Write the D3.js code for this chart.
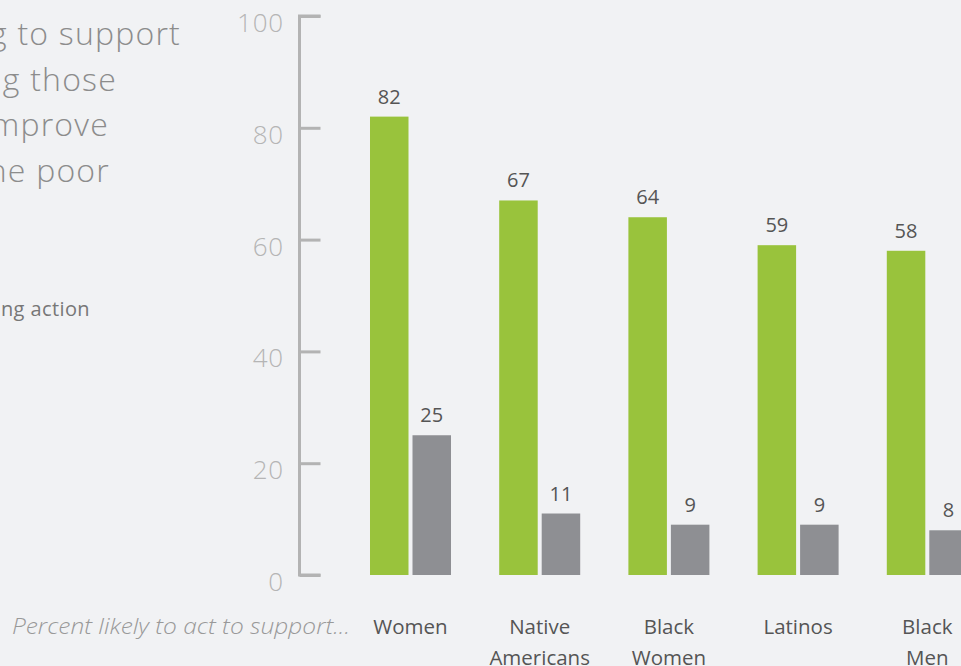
<!DOCTYPE html>
<html><head><meta charset="utf-8">
<script src="https://cdn.jsdelivr.net/npm/d3@7"></script>
<style>
html,body{margin:0;padding:0;background:#f1f2f4;overflow:hidden;}
svg{display:block;font-family:"Open Sans",sans-serif;}
</style></head>
<body>
<svg id="chart" width="961" height="666"></svg>
<script>
const categories = [["Women"],["Native","Americans"],["Black","Women"],["Latinos"],["Black","Men"]];
const categoryKeys = ["Women","Native Americans","Black Women","Latinos","Black Men"];
const supportValues = [82,67,64,59,58];
const actionValues = [25,11,9,9,8];
const seriesKeys = ["support","action"];
const yTicks = [0,20,40,60,80,100];
const titleLines = ["Percent willing to support","groups including those","working to improve","conditions for the poor"];
const legendText = "Percent taking action";
const axisNote = "Percent likely to act to support...";

const svg = d3.select("#chart");
const colors = {support:"#99c33c", action:"#8e8f93"};

const y = d3.scaleLinear().domain([0,100]).range([575,16]);
const x0 = d3.scaleBand().domain(categoryKeys).range([345.9,991.9]).paddingInner(0.373).paddingOuter(0.1865);
const x1 = d3.scaleBand().domain(seriesKeys).range([0,x0.bandwidth()]).paddingInner(0.094);

// title text (cut off at left in the reference)
const titleEnds = [181,117,109,110];
svg.append("g").selectAll("text").data(titleLines).join("text")
  .attr("x",(d,i)=>titleEnds[i])
  .attr("y",(d,i)=>45+i*45.5)
  .attr("text-anchor","end")
  .attr("font-size",32)
  .attr("letter-spacing",1.2)
  .attr("font-weight",300)
  .attr("fill","#8c8c8c")
  .text(d=>d);

svg.append("text").attr("x",90).attr("y",316).attr("text-anchor","end")
  .attr("font-size",20).attr("letter-spacing",0.4).attr("fill","#777").text(legendText);

// y axis
const axisG = svg.append("g").attr("transform","translate(299.5,0)");
const axis = d3.axisRight(y).tickValues(yTicks).tickSize(21).tickFormat("");
axisG.call(axis);
axisG.select(".domain").attr("d",`M21,${y(100)}H0V${y(0)}H21`).attr("stroke","#b3b3b3").attr("stroke-width",3).attr("fill","none");
axisG.selectAll(".tick line").attr("stroke","#b3b3b3").attr("stroke-width",3);
svg.append("g").selectAll("text").data(yTicks).join("text")
  .attr("x",284).attr("y",d=>y(d)+16)
  .attr("text-anchor","end").attr("font-size",26).attr("letter-spacing",0.8).attr("font-weight",300)
  .attr("fill","#b5b5b5").text(d=>d);

// bars
const rows = categoryKeys.map((c,i)=>({cat:c, vals:[{k:"support",v:supportValues[i]},{k:"action",v:actionValues[i]}]}));
const grp = svg.append("g").selectAll("g").data(rows).join("g")
  .attr("transform",d=>`translate(${x0(d.cat)},0)`);
grp.selectAll("rect").data(d=>d.vals).join("rect")
  .attr("x",d=>x1(d.k)).attr("width",x1.bandwidth())
  .attr("y",d=>y(d.v)).attr("height",d=>y(0)-y(d.v))
  .attr("fill",d=>colors[d.k]);
grp.selectAll("text.val").data(d=>d.vals).join("text").attr("class","val")
  .attr("x",d=>x1(d.k)+x1.bandwidth()/2).attr("y",d=>y(d.v)-13)
  .attr("text-anchor","middle").attr("font-size",20).attr("fill","#555").text(d=>d.v);

// category labels
const labG = svg.append("g").selectAll("text").data(categories).join("text")
  .attr("x",(d,i)=>x0(categoryKeys[i])+x0.bandwidth()/2)
  .attr("y",634).attr("text-anchor","middle").attr("font-size",20.5).attr("fill","#555");
labG.selectAll("tspan").data(d=>d).join("tspan")
  .attr("x",function(){return d3.select(this.parentNode).attr("x");})
  .attr("dy",(d,i)=>i===0?0:31).text(d=>d);

svg.append("text").attr("x",350).attr("y",634).attr("text-anchor","end")
  .attr("font-size",22).attr("font-style","italic").attr("font-weight",300)
  .attr("textLength",338).attr("lengthAdjust","spacingAndGlyphs")
  .attr("fill","#999").text(axisNote);
</script>
</body></html>
